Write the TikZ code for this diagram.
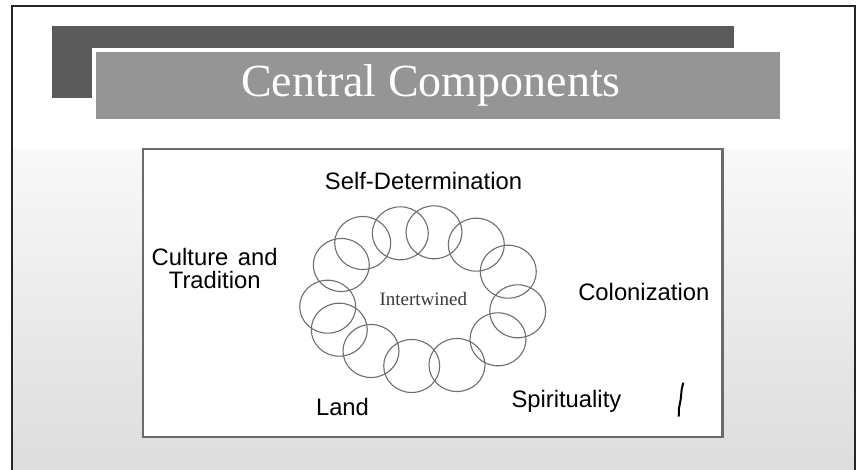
\documentclass[tikz,border=0pt]{standalone}
\usepackage{fontspec}
\setmainfont{Liberation Serif}
\newfontfamily\labelfont{Liberation Sans}
\usetikzlibrary{shapes.geometric}
\definecolor{darkbar}{HTML}{5A5A5A}
\definecolor{lightbar}{HTML}{959595}
\definecolor{ringgray}{HTML}{6E6E6E}
\definecolor{boxgray}{HTML}{6A6A6A}
\definecolor{frameline}{HTML}{262626}
\definecolor{midtext}{HTML}{3A3A3A}
\begin{document}
\begin{tikzpicture}[x=1pt,y=-1pt,
  ring/.style={draw=ringgray, line width=1.1pt, ellipse, minimum width=56pt, minimum height=53pt, inner sep=0pt},
  lbl/.style={font=\labelfont\fontsize{23.8}{22.4}\selectfont, text=black, inner sep=0pt, align=center, anchor=base},
  titletext/.style={font=\fontsize{46}{50}\selectfont, text=white, inner sep=0pt, anchor=base},
  centertext/.style={font=\fontsize{19}{22}\selectfont, text=midtext, inner sep=0pt, anchor=base},
]
\useasboundingbox (0,0) rectangle (857,470);
% background
\fill[white] (0,0) rectangle (857,470);
\shade[top color=gray!5, bottom color=gray!27] (12,150) rectangle (855,470);
% outer frame
\draw[frameline, line width=1.6pt] (12,470) -- (12,6) -- (855,6) -- (855,470);
% title bars
\fill[darkbar] (52,26) rectangle (734,98);
\fill[white] (91.5,48) rectangle (784,123);
\fill[lightbar] (95.6,52.3) rectangle (780,119);
\node[titletext] (title) at (431,97) {Central Components};
% inner box
\draw[boxgray, fill=white, line width=2.4pt] (143,149) rectangle (722.5,437);
% rings
\node[ring] (r1) at (362.7,243) {};
\node[ring] (r2) at (400.3,233.3) {};
\node[ring] (r3) at (434,232.3) {};
\node[ring] (r4) at (476.3,244.7) {};
\node[ring] (r5) at (508.3,271.7) {};
\node[ring] (r6) at (517.7,311.3) {};
\node[ring] (r7) at (498,339.3) {};
\node[ring] (r8) at (457,365) {};
\node[ring] (r9) at (411.7,366) {};
\node[ring] (r10) at (371,351) {};
\node[ring] (r11) at (339.3,329.7) {};
\node[ring] (r12) at (327.7,306.7) {};
\node[ring] (r13) at (341.3,265) {};
\node[centertext] (inter) at (423.3,306) {Intertwined};
% labels
\node[lbl] (selfdet) at (423.5,190) {Self-Determination};
\node[lbl] (colon) at (643.8,300.7) {Colonization};
\node[lbl] (culture) at (214.7,288.3) {Culture\hspace{0.4em}and\\Tradition};
\node[lbl] (land) at (342.5,415) {Land};
\node[lbl] (spirit) at (566.4,407.4) {Spirituality};
% stray mark
\coordinate (m1) at (683.3,382.7);
\coordinate (m2) at (681.7,389.3);
\coordinate (m3) at (680.7,399.3);
\coordinate (m4) at (679,408.3);
\coordinate (m5) at (678.7,416.7);
\draw[black, line width=2pt] (m1) -- (m2) -- (m3) -- (m4) -- (m5);
\end{tikzpicture}
\end{document}
